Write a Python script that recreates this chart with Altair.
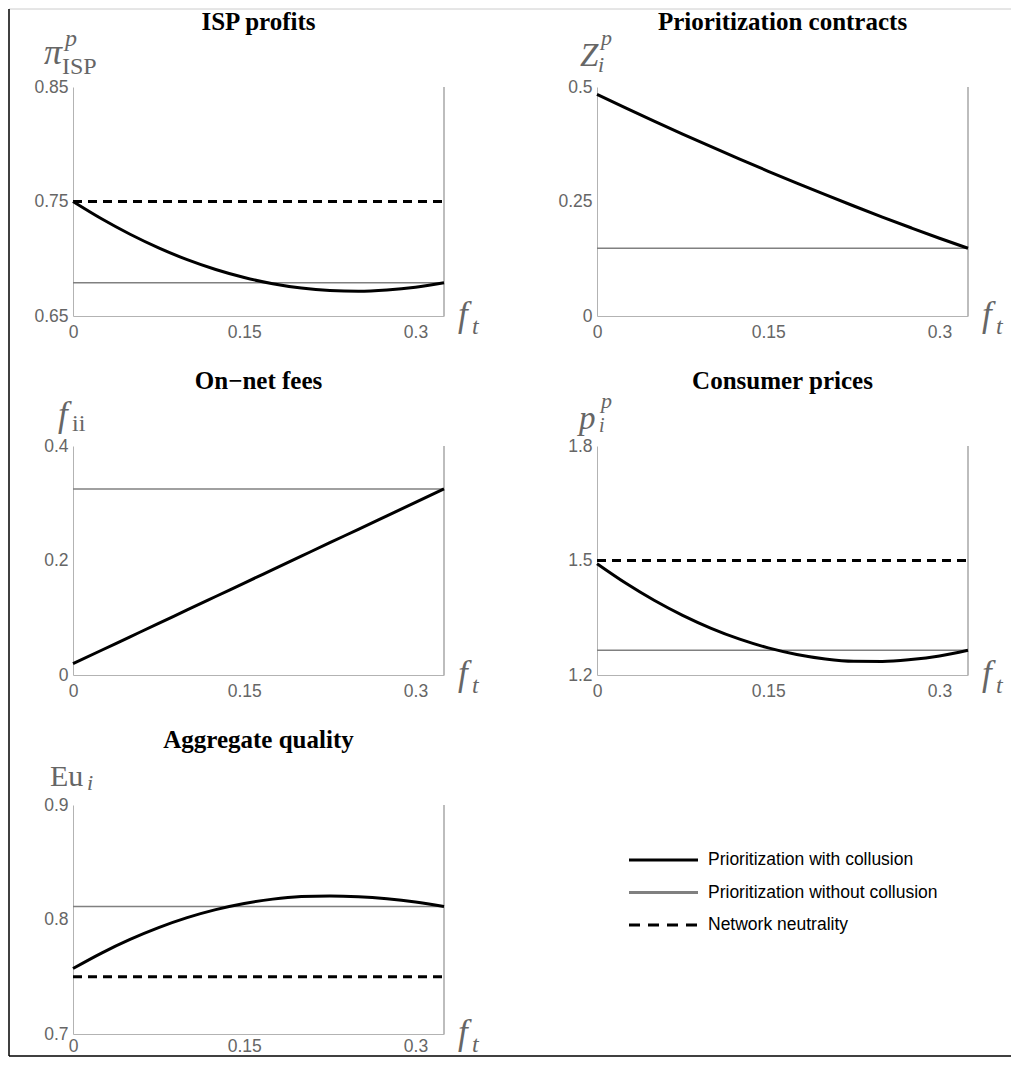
import altair as alt
import pandas as pd

# ---------------- data ----------------
FT = [0.0, 0.025, 0.05, 0.075, 0.1, 0.125, 0.15, 0.175, 0.2, 0.225, 0.25, 0.275, 0.3, 0.325]
FT_RANGE = [0.0, 0.325]
X_TICKS = [0, 0.15, 0.3]
SERIES = ["Prioritization with collusion", "Prioritization without collusion", "Network neutrality"]

TITLES = ["ISP profits", "Prioritization contracts", "On\u2212net fees", "Consumer prices", "Aggregate quality"]

ISP_COLLUSION = [0.7500, 0.7349, 0.7214, 0.7095, 0.6992, 0.6906, 0.6836, 0.6782, 0.6744,
                 0.6723, 0.6717, 0.6728, 0.6752, 0.6790]
ISP_NO_COLLUSION = 0.679
ISP_NEUTRALITY = 0.75
ISP_DOMAIN = [0.65, 0.85]
ISP_TICKS = [0.65, 0.75, 0.85]

Z_COLLUSION = [0.484, 0.4545, 0.4256, 0.3973, 0.3696, 0.3425, 0.3160, 0.2901, 0.2648,
               0.2402, 0.2161, 0.1927, 0.1698, 0.1480]
Z_NO_COLLUSION = 0.148
Z_DOMAIN = [0, 0.5]
Z_TICKS = [0, 0.25, 0.5]

F_COLLUSION = [0.0197, 0.0432, 0.0667, 0.0902, 0.1136, 0.1371, 0.1606, 0.1841, 0.2076,
               0.2311, 0.2545, 0.2780, 0.3015, 0.3250]
F_NO_COLLUSION = 0.325
F_DOMAIN = [0, 0.4]
F_TICKS = [0, 0.2, 0.4]

P_COLLUSION = [1.4916, 1.4409, 1.3958, 1.3563, 1.3223, 1.2939, 1.2711, 1.2538, 1.2421,
               1.2360, 1.2354, 1.2405, 1.2500, 1.2650]
P_NO_COLLUSION = 1.265
P_NEUTRALITY = 1.5
P_DOMAIN = [1.2, 1.8]
P_TICKS = [1.2, 1.5, 1.8]

Q_COLLUSION = [0.7572, 0.7707, 0.7826, 0.7929, 0.8016, 0.8086, 0.8140, 0.8178, 0.8200,
               0.8206, 0.8199, 0.8181, 0.8153, 0.8114]
Q_NO_COLLUSION = 0.8114
Q_NEUTRALITY = 0.75
Q_DOMAIN = [0.7, 0.9]
Q_TICKS = [0.7, 0.8, 0.9]

# ---------------- styling ----------------
W, H = 371, 229
SANS = "Liberation Sans"
SERIF = "Liberation Serif"
LABEL_GRAY = "#666666"
CURVE_GRAY = "#808080"

ONE = pd.DataFrame({"k": [0]})


def txt(s, x, y, size, style="normal", weight="normal", align="left", color=LABEL_GRAY, font=SERIF):
    return alt.Chart(ONE).mark_text(
        text=s, font=font, fontSize=size, fontStyle=style, fontWeight=weight,
        align=align, baseline="alphabetic", color=color,
    ).encode(x=alt.value(x), y=alt.value(y))


def panel(title, label_parts, ydom, yticks, col, nocol, nn=None, extra=(), xpad=7):
    xenc = alt.X("ft:Q", scale=alt.Scale(domain=FT_RANGE, nice=False, zero=False),
                 axis=alt.Axis(values=X_TICKS, format=".2~f", title=None, labelPadding=xpad))
    yenc = alt.Y("v:Q", scale=alt.Scale(domain=ydom, nice=False, zero=False),
                 axis=alt.Axis(values=yticks, format=".2~f", title=None, labelPadding=5))
    layers = []
    # right-hand boundary at the largest f_t
    layers.append(alt.Chart(pd.DataFrame({"ft": [FT_RANGE[1]]}))
                  .mark_rule(color="#9a9a9a", strokeWidth=1.3).encode(x=xenc))
    # prioritization without collusion (constant)
    layers.append(alt.Chart(pd.DataFrame({"ft": FT_RANGE, "v": [nocol, nocol]}))
                  .mark_line(color=CURVE_GRAY, strokeWidth=1.6).encode(x=xenc, y=yenc))
    if nn is not None:
        layers.append(alt.Chart(pd.DataFrame({"ft": FT_RANGE, "v": [nn, nn]}))
                      .mark_line(color="black", strokeWidth=3, strokeDash=[9, 6]).encode(x=xenc, y=yenc))
    layers.append(alt.Chart(pd.DataFrame({"ft": FT, "v": col}))
                  .mark_line(color="black", strokeWidth=3, interpolate="monotone").encode(x=xenc, y=yenc))
    # title
    layers.append(txt(title, W / 2, -57, 25, weight="bold", align="center", color="black"))
    # y label (math)
    for s, dx, dy, size, style in label_parts:
        layers.append(txt(s, dx, dy, size, style=style))
    # x label f_t
    layers.append(txt("f", W + 14, H + 10, 35, style="italic"))
    layers.append(txt("t", W + 28, H + 18, 24, style="italic"))
    layers.extend(extra)
    return alt.layer(*layers).properties(width=W, height=H)


# outer frame of the figure
frame = [
    alt.Chart(ONE).mark_rule(color="#cccccc", strokeWidth=1).encode(
        x=alt.value(-64), x2=alt.value(938), y=alt.value(-78)),
    alt.Chart(ONE).mark_rule(color="black", strokeWidth=1.5).encode(
        x=alt.value(-64), y=alt.value(-78), y2=alt.value(969)),
    alt.Chart(ONE).mark_rule(color="black", strokeWidth=1.5).encode(
        x=alt.value(-64), x2=alt.value(938), y=alt.value(969)),
]

p1 = panel(TITLES[0], [("\u03c0", -29, -23, 36, "italic"), ("p", -8, -41, 24, "italic"),
                       ("ISP", -11, -13, 24, "normal")],
           ISP_DOMAIN, ISP_TICKS, ISP_COLLUSION, ISP_NO_COLLUSION, ISP_NEUTRALITY, extra=frame)
p2 = panel(TITLES[1], [("Z", -17, -21, 33, "italic"), ("p", 4, -42, 22, "italic"),
                       ("i", 1, -15, 22, "italic")],
           Z_DOMAIN, Z_TICKS, Z_COLLUSION, Z_NO_COLLUSION)
p3 = panel(TITLES[2], [("f", -15, -20, 35, "italic"), ("ii", -1, -15, 24, "normal")],
           F_DOMAIN, F_TICKS, F_COLLUSION, F_NO_COLLUSION)
p4 = panel(TITLES[3], [("p", -18, -17, 33, "italic"), ("p", 4, -38, 22, "italic"),
                       ("i", 2, -14, 20, "italic")],
           P_DOMAIN, P_TICKS, P_COLLUSION, P_NO_COLLUSION, P_NEUTRALITY)
p5 = panel(TITLES[4], [("Eu", -23, -19, 30, "normal"), ("i", 14, -15, 22, "italic")],
           Q_DOMAIN, Q_TICKS, Q_COLLUSION, Q_NO_COLLUSION, Q_NEUTRALITY, xpad=3)

# legend drawn from the series names
leg_df = pd.DataFrame({"s": SERIES})
yl = alt.Y("s:N", scale=alt.Scale(type="point", domain=SERIES, range=[55, 120], padding=0), axis=None)
leg_lines = alt.Chart(leg_df).mark_rule(strokeWidth=3).encode(
    x=alt.value(32), x2=alt.value(101), y=yl,
    color=alt.Color("s:N", scale=alt.Scale(domain=SERIES, range=["#000000", CURVE_GRAY, "#000000"]), legend=None),
    strokeDash=alt.StrokeDash("s:N", scale=alt.Scale(domain=SERIES, range=[[1, 0], [1, 0], [11, 8]]), legend=None),
)
leg_text = alt.Chart(leg_df).mark_text(
    align="left", baseline="middle", font=SANS, fontSize=17.5, color="black"
).encode(x=alt.value(111), y=yl, text="s:N")
legend = alt.layer(leg_lines, leg_text).properties(width=W, height=H)

chart = alt.concat(
    p1, p2, p3, p4, p5, legend,
    columns=2, spacing={"row": 130, "column": 153}, bounds="flush",
).properties(padding=0).configure_view(stroke=None).configure_axis(
    domainColor="#b3b3b3", domainWidth=1, ticks=False, tickSize=0, grid=False,
    labelColor=LABEL_GRAY, labelFont=SANS, labelFontSize=17.5,
    labelFlush=False, labelOverlap=False,
)

chart.save("out.html", embed_options={"renderer": "svg", "actions": False})
